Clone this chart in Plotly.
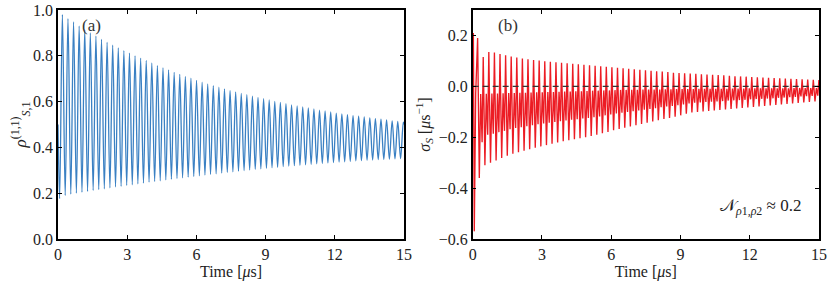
import plotly.graph_objects as go

# ---------------- data ----------------
period = 0.2423                      # oscillation period [μs]
x_ticks = [0, 3, 6, 9, 12, 15]

# panel (a): rho_{S,1}^{(1,1)}
a_start_t, a_start_v = 0.0, 0.50
a_trough_t0 = 0.07
a_peak_t0 = 0.19
a_end_t, a_end_v = 15.0, 0.50
a_peaks = [0.980, 0.962, 0.948, 0.930, 0.914, 0.900, 0.886, 0.872, 0.859, 0.846,
           0.834, 0.822, 0.812, 0.800, 0.790, 0.780, 0.769, 0.758, 0.748, 0.738,
           0.728, 0.719, 0.710, 0.702, 0.693, 0.685, 0.677, 0.670, 0.663, 0.656,
           0.649, 0.642, 0.636, 0.630, 0.624, 0.618, 0.613, 0.607, 0.601, 0.596,
           0.591, 0.586, 0.581, 0.577, 0.572, 0.568, 0.563, 0.559, 0.555, 0.550,
           0.546, 0.543, 0.539, 0.536, 0.533, 0.529, 0.526, 0.523, 0.520, 0.516,
           0.513, 0.510]
a_troughs = [0.176, 0.190, 0.196, 0.200, 0.204, 0.208, 0.212, 0.216, 0.219, 0.223,
             0.227, 0.230, 0.234, 0.237, 0.241, 0.244, 0.248, 0.251, 0.254, 0.258,
             0.261, 0.264, 0.267, 0.270, 0.273, 0.276, 0.279, 0.282, 0.285, 0.288,
             0.291, 0.293, 0.296, 0.299, 0.301, 0.304, 0.306, 0.309, 0.311, 0.313,
             0.316, 0.318, 0.320, 0.322, 0.324, 0.326, 0.328, 0.330, 0.332, 0.334,
             0.336, 0.337, 0.339, 0.341, 0.342, 0.344, 0.345, 0.347, 0.348, 0.349,
             0.350, 0.351]

# panel (b): sigma_S
b_head_t = [0.0, 0.03, 0.07, 0.13]
b_head_v = [-0.05, 0.21, -0.57, -0.03]
b_spike_t0 = 0.215
b_spikes = [0.190, 0.115, 0.135, 0.133, 0.127, 0.122, 0.117, 0.113, 0.109, 0.106,
            0.103, 0.101, 0.099, 0.097, 0.095, 0.093, 0.091, 0.089, 0.087, 0.085,
            0.083, 0.081, 0.079, 0.077, 0.075, 0.073, 0.071, 0.069, 0.067, 0.065,
            0.063, 0.061, 0.059, 0.058, 0.056, 0.053, 0.052, 0.051, 0.050, 0.049,
            0.047, 0.046, 0.045, 0.044, 0.043, 0.041, 0.040, 0.039, 0.038, 0.037,
            0.036, 0.035, 0.034, 0.033, 0.032, 0.031, 0.030, 0.029, 0.028, 0.027,
            0.026, 0.025]
b_deep = [-0.360, -0.310, -0.300, -0.291, -0.282, -0.273, -0.265, -0.259, -0.253, -0.247,
          -0.241, -0.236, -0.231, -0.226, -0.221, -0.216, -0.212, -0.208, -0.204, -0.200,
          -0.195, -0.190, -0.184, -0.179, -0.173, -0.168, -0.163, -0.158, -0.153, -0.148,
          -0.143, -0.138, -0.133, -0.128, -0.124, -0.119, -0.114, -0.108, -0.103, -0.101,
          -0.099, -0.097, -0.095, -0.093, -0.091, -0.089, -0.087, -0.085, -0.083, -0.081,
          -0.079, -0.077, -0.075, -0.073, -0.071, -0.069, -0.067, -0.065, -0.063, -0.061,
          -0.059, -0.057]
b_mid = [-0.030, -0.029, -0.028, -0.028, -0.027, -0.026, -0.026, -0.025, -0.025, -0.024,
         -0.023, -0.023, -0.022, -0.022, -0.021, -0.020, -0.020, -0.019, -0.019, -0.018,
         -0.017, -0.017, -0.016, -0.016, -0.015, -0.014, -0.014, -0.014, -0.014, -0.013,
         -0.013, -0.013, -0.013, -0.012, -0.012, -0.011, -0.011, -0.011, -0.011, -0.010,
         -0.010, -0.010, -0.010, -0.010, -0.010, -0.009, -0.009, -0.009, -0.008, -0.008,
         -0.008, -0.008, -0.008, -0.008, -0.008, -0.008, -0.007, -0.007, -0.007, -0.007,
         -0.007, -0.007]
b_second = [-0.220, -0.190, -0.186, -0.180, -0.175, -0.169, -0.164, -0.161, -0.157, -0.153,
            -0.149, -0.146, -0.143, -0.140, -0.137, -0.134, -0.131, -0.129, -0.126, -0.124,
            -0.121, -0.118, -0.114, -0.111, -0.107, -0.104, -0.101, -0.098, -0.095, -0.092,
            -0.089, -0.086, -0.082, -0.079, -0.077, -0.074, -0.071, -0.067, -0.064, -0.063,
            -0.061, -0.060, -0.059, -0.058, -0.056, -0.055, -0.054, -0.053, -0.051, -0.050,
            -0.049, -0.048, -0.047, -0.045, -0.044, -0.043, -0.042, -0.040, -0.039, -0.038,
            -0.037, -0.035]
b_phase = [0.0, 0.30, 0.55, 0.80]   # fraction of period for spike, deep, mid, second

# ---------------- build traces ----------------
ta, ya = [a_start_t], [a_start_v]
for j in range(len(a_peaks)):
    ta += [a_trough_t0 + j * period, a_peak_t0 + j * period]
    ya += [a_troughs[j], a_peaks[j]]
ta.append(a_end_t)
ya.append(a_end_v)

tb, yb = list(b_head_t), list(b_head_v)
for k in range(len(b_spikes)):
    base = b_spike_t0 + k * period
    for ph, v in zip(b_phase, [b_spikes[k], b_deep[k], b_mid[k], b_second[k]]):
        tb.append(base + ph * period)
        yb.append(v)

FONT = "Liberation Serif"
BLUE = "#3a80c3"
RED = "#ec1c24"

fig = go.Figure()
fig.add_trace(go.Scatter(x=ta, y=ya, mode="lines", line=dict(color=BLUE, width=1.3, shape="spline"),
                         xaxis="x", yaxis="y", showlegend=False, hoverinfo="skip"))
fig.add_trace(go.Scatter(x=tb, y=yb, mode="lines", line=dict(color=RED, width=1.35),
                         xaxis="x2", yaxis="y2", showlegend=False, hoverinfo="skip"))
fig.add_trace(go.Scatter(x=[0, 15], y=[0, 0], mode="lines",
                         line=dict(color="#333333", width=1.3, dash="6px,4px"),
                         xaxis="x2", yaxis="y2", showlegend=False, hoverinfo="skip"))

axis_common = dict(showline=True, linecolor="black", linewidth=1.6, mirror="ticks",
                   ticks="inside", ticklen=4, tickwidth=1.2, tickcolor="black",
                   showgrid=False, zeroline=False, automargin=False,
                   tickfont=dict(family=FONT, size=16, color="#222"))

xtitle = dict(text="Time [<i>μ</i>s]", font=dict(family=FONT, size=16, color="#222"), standoff=4)

fig.update_layout(
    width=831, height=283,
    margin=dict(l=58, r=12, t=10, b=44),
    paper_bgcolor="white", plot_bgcolor="white",
    xaxis=dict(domain=[0, 0.4547], range=[0, 15], tickvals=x_ticks, title=xtitle, **axis_common),
    yaxis=dict(domain=[0, 1], range=[0, 1.0], tickvals=[0, 0.2, 0.4, 0.6, 0.8, 1.0],
               tickformat=".1f",
               title=dict(text="<i>ρ</i><sup>(1,1)</sup><sub><i>S</i>,1</sub>",
                          font=dict(family=FONT, size=17, color="#222"), standoff=2),
               **axis_common),
    xaxis2=dict(domain=[0.5449, 1], range=[0, 15], tickvals=x_ticks, title=xtitle,
                anchor="y2", **axis_common),
    yaxis2=dict(domain=[0, 1], range=[-0.6, 0.3], tickvals=[-0.6, -0.4, -0.2, 0.0, 0.2],
                tickformat=".1f", anchor="x2",
                title=dict(text="<i>σ<sub>S</sub></i> [<i>μ</i>s<sup>−1</sup>]",
                           font=dict(family=FONT, size=16, color="#222"), standoff=4),
                **axis_common),
    annotations=[
        dict(text="(a)", x=1.47, y=0.934, xref="x", yref="y", showarrow=False,
             font=dict(family=FONT, size=17, color="#333")),
        dict(text="(b)", x=1.51, y=0.24, xref="x2", yref="y2", showarrow=False,
             font=dict(family=FONT, size=17, color="#333")),
        dict(text="𝒩<sub><i>ρ</i>1,<i>ρ</i>2</sub> ≈ 0.2", x=14.3, y=-0.476, xref="x2", yref="y2",
             xanchor="right", showarrow=False,
             font=dict(family=FONT, size=17, color="#222")),
    ],
)

fig.write_html("out.html", config={"displayModeBar": False},
               post_script="document.body.style.margin='0';document.body.style.overflow='hidden';")
